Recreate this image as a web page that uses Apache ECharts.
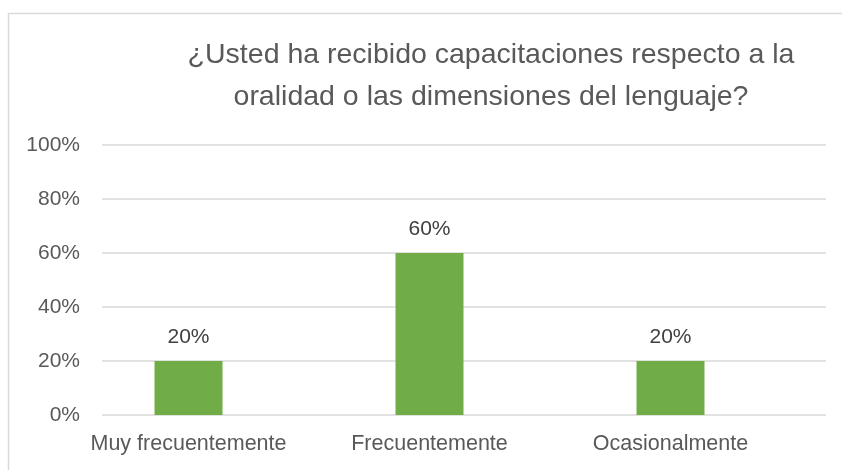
<!DOCTYPE html>
<html>
<head>
<meta charset="utf-8">
<script src="https://cdn.jsdelivr.net/npm/echarts@6/dist/echarts.min.js"></script>
<style>
  html, body { margin: 0; padding: 0; background: #fff; }
  #main { width: 842px; height: 470px; }
</style>
</head>
<body>
<div id="main"></div>
<script>
const categories = ['Muy frecuentemente', 'Frecuentemente', 'Ocasionalmente'];
const values = [20, 60, 20];
const yTicks = [0, 20, 40, 60, 80, 100];

const titleText = '¿Usted ha recibido capacitaciones respecto a la\noralidad o las dimensiones del lenguaje?';
const font = 'Liberation Sans';

// Excel places the bars a bit left of the gridlines, so use two grids
let myChart = echarts.init(document.getElementById('main'));
myChart.setOption({
  animation: false,
  backgroundColor: '#fff',
  textStyle: { fontFamily: font },
  title: {
    text: titleText,
    left: 486,
    top: 29,
    textAlign: 'center',
    textStyle: { fontSize: 28.5, fontWeight: 'normal', color: '#595959', lineHeight: 42, fontFamily: font }
  },
  graphic: [{
    type: 'rect',
    shape: { x: 8.5, y: 13.5, width: 900, height: 500 },
    style: { fill: 'none', stroke: '#d9d9d9', lineWidth: 1.5 },
    silent: true
  }],
  grid: [
    { left: 102, right: 16, top: 145, bottom: 55 },
    { left: 68, right: 51, top: 145, bottom: 55 }
  ],
  xAxis: [
    { gridIndex: 0, type: 'value', show: false },
    {
      gridIndex: 1,
      type: 'category',
      data: categories,
      axisLine: { show: false },
      axisTick: { show: false },
      axisLabel: { color: '#595959', fontSize: 21.5, margin: 18, interval: 0, hideOverlap: false }
    }
  ],
  yAxis: [
    {
      gridIndex: 0,
      type: 'value',
      min: yTicks[0],
      max: yTicks[yTicks.length - 1],
      interval: 20,
      axisLine: { show: false },
      axisTick: { show: false },
      axisLabel: { color: '#595959', fontSize: 21, margin: 22, formatter: '{value}%' },
      splitLine: { lineStyle: { color: '#d9d9d9', width: 1.5 } }
    },
    {
      gridIndex: 1,
      type: 'value',
      min: yTicks[0],
      max: yTicks[yTicks.length - 1],
      show: false,
      splitLine: { show: false }
    }
  ],
  series: [{
    type: 'bar',
    xAxisIndex: 1,
    yAxisIndex: 1,
    data: values,
    barWidth: 68,
    itemStyle: { color: '#70ad47' },
    label: {
      show: true,
      position: 'top',
      distance: 13,
      color: '#404040',
      fontSize: 21,
      formatter: '{c}%'
    }
  }]
});
</script>
</body>
</html>
